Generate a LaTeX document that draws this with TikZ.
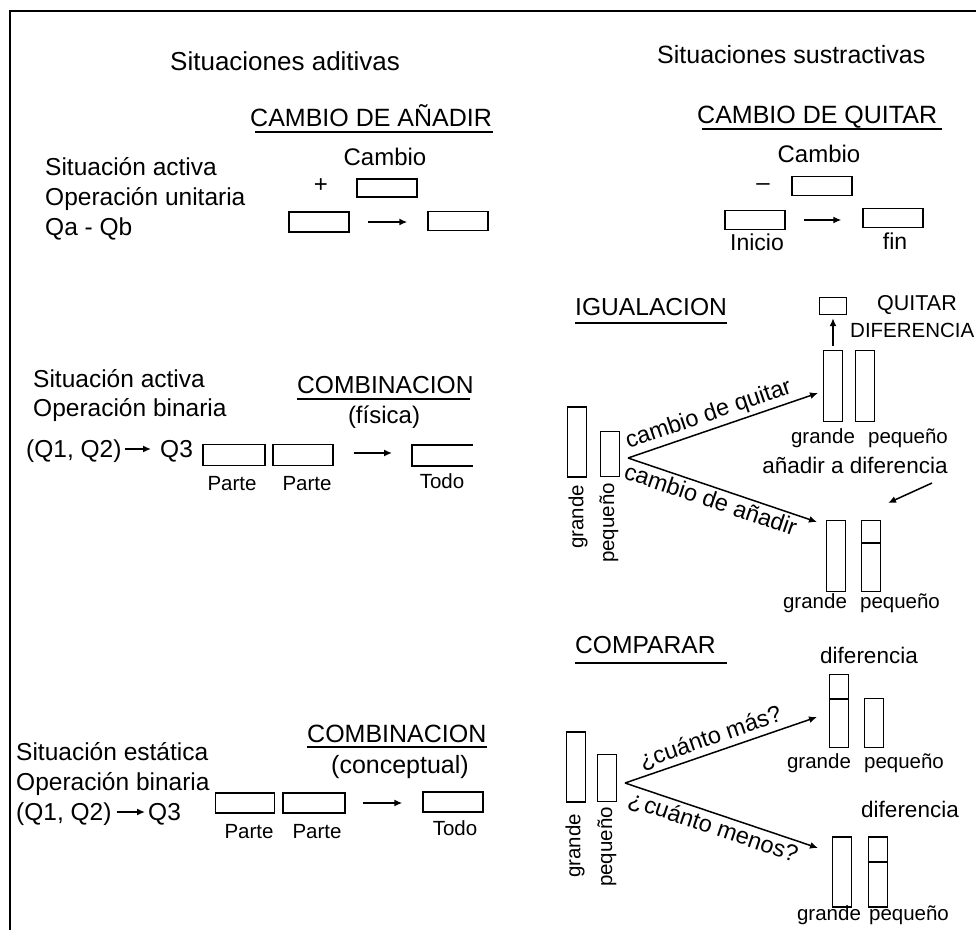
\documentclass[tikz,border=0pt]{standalone}
\usepackage{fontspec}
\setmainfont{Liberation Sans}
\usetikzlibrary{arrows.meta}
\newcommand{\fsz}[1]{\fontsize{#1}{#1}\selectfont}
\begin{document}
\begin{tikzpicture}[x=1pt,y=-1pt,
  txt/.style={inner sep=0pt, anchor=base west, font=\fsz{24.5}},
  ctr/.style={inner sep=0pt, anchor=base, font=\fsz{24}},
  head/.style={inner sep=0pt, anchor=base west, font=\fsz{24.6}},
  small/.style={inner sep=0pt, anchor=base, font=\fsz{20.5}},
  vert/.style={inner sep=0pt, rotate=90, font=\fsz{20.5}},
  bx/.style={draw, line width=1.4pt, inner sep=0pt, minimum width=#1},
  bx/.default=60,
  bar/.style={draw, line width=1.4pt, inner sep=0pt, minimum width=19},
  arr/.style={line width=1.5pt, -{Latex[length=8pt,width=7pt]}},
  ul/.style={line width=1.4pt},
  slab/.style={sloped, inner sep=3pt, font=\fsz{23.5}}]
\useasboundingbox (0,0) rectangle (976,930);
\fill[white] (0,0) rectangle (976,930);
% frame
\draw[line width=2pt] (976,11) -- (10,11) -- (10,930);

% column titles
\node[txt, font=\fsz{26}] (tadd) at (170,70) {Situaciones aditivas};
\node[txt, font=\fsz{25}] (tsub) at (657,63) {Situaciones sustractivas};

% ---- cambio de añadir
\node[head, font=\fsz{25}] (hA) at (250,126) {CAMBIO DE AÑADIR};
\draw[ul] (255,132) -- (493,132);
\node[txt] (a1) at (45,175) {Situación activa};
\node[txt] (a2) at (45,205) {Operación unitaria};
\node[txt] (a3) at (45,235) {Qa - Qb};
\node[ctr] (cA) at (385,165) {Cambio};
\node[inner sep=0pt, font=\fsz{24}] (plus) at (321,186) {+};
\node[bx, minimum height=18] (dA) at (387,188) {};
\node[bx, minimum height=20] (sA) at (319,222) {};
\node[bx, minimum height=19] (fA) at (458,221) {};
\draw[arr, shorten <=18pt, shorten >=20pt] (sA.east) -- (sA.east -| fA.west);

% ---- cambio de quitar
\node[head, font=\fsz{25}] (hQ) at (697,123) {CAMBIO DE QUITAR};
\draw[ul] (702,129) -- (942,129);
\node[ctr] (cQ) at (819,162) {Cambio};
\node[inner sep=0pt, font=\fsz{24}] (minus) at (763,187) {–};
\node[bx, minimum height=19] (dQ) at (822,186) {};
\node[bx, minimum height=19] (sQ) at (755,220) {};
\node[bx, minimum height=19] (fQ) at (893,218) {};
\draw[arr, shorten <=18pt, shorten >=21pt] (sQ.east) -- (sQ.east -| fQ.west);
\node[ctr, font=\fsz{23}] (ini) at (757,250) {Inicio};
\node[ctr, font=\fsz{23}] (fin) at (895,249) {fin};

% ---- combinación física
\node[txt] (b1) at (33,387) {Situación activa};
\node[txt] (b2) at (33,416) {Operación binaria};
\node[txt] (bq) at (26,457) {(Q1, Q2)};
\node[txt] (bq3) at (160,457) {Q3};
\draw[arr, shorten <=3pt, shorten >=9pt] (bq.east |- 0,449) -- (bq3.west |- 0,449);
\node[head] (hC1) at (297,393) {COMBINACION};
\draw[ul] (297,399) -- (470,399);
\node[ctr] (fis) at (384,423) {(física)};
\node[bx=62, minimum height=21] (p1) at (234,455) {};
\node[bx=60, minimum height=21] (p2) at (303,455) {};
\coordinate (t1) at (412,455);
\draw[line width=1.4pt] (473,445) -- (412,445) -- (412,466) -- (473,466);
\draw[arr, shorten <=20pt, shorten >=20pt] (p2.east |- 0,453) -- (t1 |- 0,453);
\node[small] at (232,490) {Parte};
\node[small] at (307,490) {Parte};
\node[small] at (442,488) {Todo};

% ---- combinación conceptual
\node[txt] (c1) at (16,760) {Situación estática};
\node[txt] (c2) at (16,790) {Operación binaria};
\node[txt] (cq) at (16,820) {(Q1, Q2)};
\node[txt] (cq3) at (148,820) {Q3};
\draw[arr, shorten <=5pt, shorten >=3pt] (cq.east |- 0,812) -- (cq3.west |- 0,812);
\node[head, font=\fsz{25}] (hC2) at (307,742) {COMBINACION};
\draw[ul] (307,747) -- (487,747);
\node[ctr, font=\fsz{25}] (con) at (400,773) {(conceptual)};
\node[bx=59, minimum height=20] (q1) at (245,803) {};
\node[bx=62, minimum height=20] (q2) at (314,803) {};
\node[bx=60, minimum height=20] (qt) at (453,802) {};
\draw[arr, shorten <=17pt, shorten >=20pt] (q2.east) -- (q2.east -| qt.west);
\node[small] at (249,838) {Parte};
\node[small] at (317,838) {Parte};
\node[small] at (455,835) {Todo};

% ---- igualación
\node[head] (hI) at (575,315) {IGUALACION};
\draw[ul] (575,323) -- (727,323);
\node[bar, minimum height=70] (igL) at (577,442) {};
\node[bar, minimum height=45] (ipL) at (610,454) {};
\node[vert] at (578,517) {grande};
\node[vert] at (609,523) {pequeño};
\coordinate (ia) at (628,458);
\coordinate (iu) at (818,393);
\coordinate (id) at (817,522);
\draw[arr] (ia) -- node[slab, above, pos=0.45] {cambio de quitar} (iu);
\draw[arr] (ia) -- node[slab, below, pos=0.46] {cambio de añadir} (id);

\node[draw, line width=1.4pt, inner sep=0pt, minimum width=27, minimum height=17] (qb) at (833,306) {};
\node[inner sep=0pt, anchor=base west, font=\fsz{21.5}] at (877,310) {QUITAR};
\node[inner sep=0pt, anchor=base west, font=\fsz{20.5}] at (850,337) {DIFERENCIA};
\node[bar, minimum height=71] (igA) at (833,386) {};
\node[bar, minimum height=71] (ipA) at (865,386) {};
\draw[arr, shorten <=4pt, shorten >=3pt] (igA.north) -- (qb.south);
\node[small] at (823,443) {grande};
\node[small] at (908,443) {pequeño};
\node[ctr, font=\fsz{22.5}] at (855,473) {añadir a diferencia};
\coordinate (ad1) at (932,483);
\coordinate (ad2) at (888,503);
\draw[arr] (ad1) -- (ad2);
\node[bar, minimum height=71] (igB) at (836,556) {};
\node[bar, minimum height=71] (ipB) at (871,556) {};
\draw[line width=1.4pt] (ipB.west |- 0,543) -- (ipB.east |- 0,543);
\node[small] at (815,608) {grande};
\node[small] at (900,608) {pequeño};

% ---- comparar
\node[head] (hP) at (575,653) {COMPARAR};
\draw[ul] (575,663) -- (727,663);
\node[bar, minimum height=70] (cgL) at (576,767) {};
\node[bar, minimum height=47] (cpL) at (607,778) {};
\node[vert] at (575,846) {grande};
\node[vert] at (607,847) {pequeño};
\coordinate (ca) at (625,783);
\coordinate (cu) at (817,717);
\coordinate (cd) at (818,848);
\draw[arr] (ca) -- node[slab, above, pos=0.47] {¿cuánto más?} (cu);
\draw[arr] (ca) -- node[slab, below, pos=0.48] {¿\kern2pt cuánto menos?} (cd);

\node[ctr, font=\fsz{22.5}] at (869,663) {diferencia};
\node[bar, minimum height=73] (cgC) at (839,711) {};
\draw[line width=1.4pt] (cgC.west |- 0,699) -- (cgC.east |- 0,699);
\node[bar, minimum height=49] (cpC) at (874,723) {};
\node[small] at (819,768) {grande};
\node[small] at (904,768) {pequeño};

\node[ctr, font=\fsz{22.5}] at (910,817) {diferencia};
\node[bar, minimum height=70] (cgD) at (842,872) {};
\node[bar, minimum height=70] (cpD) at (878,872) {};
\draw[line width=1.4pt] (cpD.west |- 0,862) -- (cpD.east |- 0,862);
\node[small] at (829,920) {grande};
\node[small] at (909,920) {pequeño};
\end{tikzpicture}
\end{document}
